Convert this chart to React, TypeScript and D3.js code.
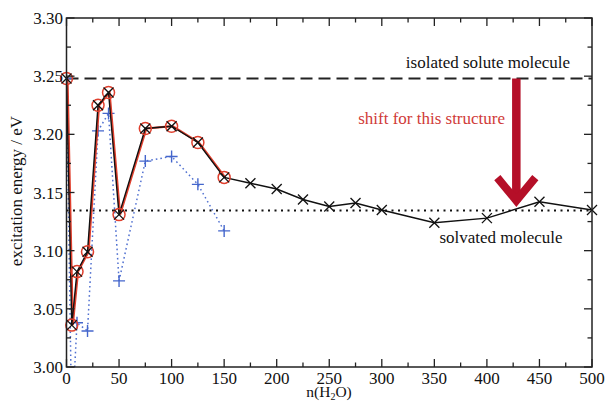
import React from "react";
import * as d3 from "d3";

const W = 605;
const H = 402;

// Black (solid, × markers)
const blackX = [0, 5, 10, 20, 30, 40, 50, 75, 100, 125, 150, 175, 200, 225, 250, 275, 300, 350, 400, 450, 500];
const blackY = [3.248, 3.036, 3.082, 3.099, 3.225, 3.236, 3.131, 3.205, 3.207, 3.193, 3.163, 3.158, 3.153, 3.144, 3.138, 3.141, 3.135, 3.124, 3.128, 3.142, 3.135];

// Red (solid, ○ markers)
const redX = [0, 5, 10, 20, 30, 40, 50, 75, 100, 125, 150];
const redY = [3.248, 3.036, 3.082, 3.099, 3.225, 3.236, 3.131, 3.205, 3.207, 3.193, 3.163];

// Blue (dotted, + markers)
const blueX = [0, 5, 10, 20, 30, 40, 50, 75, 100, 125, 150];
const blueY = [3.248, 2.95, 3.038, 3.031, 3.203, 3.218, 3.074, 3.177, 3.181, 3.157, 3.117];

const isolatedValue = 3.248;
const solvatedValue = 3.1345;
const arrowX = 428;
const arrowTo = 3.137;

const xTicks = [0, 50, 100, 150, 200, 250, 300, 350, 400, 450, 500];
const yTicks = [3.0, 3.05, 3.1, 3.15, 3.2, 3.25, 3.3];

const FONT = "'Liberation Serif', 'DejaVu Serif', serif";

export default function App() {
  const left = 66.5, right = 592, top = 18, bottom = 367;
  const x = d3.scaleLinear().domain([0, 500]).range([left, right]);
  const y = d3.scaleLinear().domain([3.0, 3.3]).range([bottom, top]);

  const line = d3.line<[number, number]>().x(d => x(d[0])).y(d => y(d[1]));
  const black = blackX.map((v, i) => [v, blackY[i]] as [number, number]);
  const red = redX.map((v, i) => [v, redY[i]] as [number, number]);
  const blue = blueX.map((v, i) => [v, blueY[i]] as [number, number]);

  const xMinor = d3.range(25, 500, 50);
  const yMinor = d3.range(3.025, 3.3, 0.05);

  const ax = x(arrowX);
  const tipY = y(arrowTo);
  const arrowColor = "#b50f28";

  return (
    <svg width={W} height={H} style={{ position: "absolute", left: 0, top: 0, background: "#fff" }} fontFamily={FONT}>
      <defs>
        <clipPath id="plot">
          <rect x={left} y={top} width={right - left} height={bottom - top} />
        </clipPath>
      </defs>

      {/* reference lines */}
      <line x1={left} x2={right} y1={y(isolatedValue)} y2={y(isolatedValue)} stroke="#222" strokeWidth={2} strokeDasharray="12,6" />
      <line x1={left} x2={right} y1={y(solvatedValue)} y2={y(solvatedValue)} stroke="#111" strokeWidth={2} strokeDasharray="2,4.5" />

      <g clipPath="url(#plot)">
        {/* blue dotted */}
        <path d={line(blue) || ""} fill="none" stroke="#5070d0" strokeWidth={1.5} strokeDasharray="1.6,3" />
        {blue.map((d, i) => (
          <g key={"b" + i} transform={`translate(${x(d[0])},${y(d[1])})`} stroke="#4466cc" strokeWidth={1.4}>
            <line x1={-6} x2={6} y1={0} y2={0} />
            <line x1={0} x2={0} y1={-6} y2={6} />
          </g>
        ))}
        {/* red */}
        <path d={line(red) || ""} fill="none" stroke="#e0402e" strokeWidth={2.2} transform="translate(1,0)" />
        <path d={line(black) || ""} fill="none" stroke="#111" strokeWidth={1.4} />
      </g>
      {red.map((d, i) => (
        <circle key={"r" + i} cx={x(d[0])} cy={y(d[1])} r={6} fill="none" stroke="#e0402e" strokeWidth={1.5} />
      ))}
      {black.map((d, i) => (
        <g key={"k" + i} transform={`translate(${x(d[0])},${y(d[1])})`} stroke="#111" strokeWidth={1.3}>
          <line x1={-5} x2={5} y1={-5} y2={5} />
          <line x1={-5} x2={5} y1={5} y2={-5} />
        </g>
      ))}

      {/* arrow */}
      <line x1={ax} x2={ax} y1={y(isolatedValue)} y2={tipY - 6} stroke={arrowColor} strokeWidth={8.5} />
      <polyline points={`${ax - 19},${tipY - 30} ${ax},${tipY - 7} ${ax + 19},${tipY - 30}`} fill="none" stroke={arrowColor} strokeWidth={8} strokeLinejoin="miter" strokeMiterlimit={10} />

      {/* frame */}
      <rect x={left} y={top} width={right - left} height={bottom - top} fill="none" stroke="#222" strokeWidth={1.5} />

      {/* x ticks */}
      {xTicks.map(t => (
        <g key={"xt" + t}>
          <line x1={x(t)} x2={x(t)} y1={bottom} y2={bottom - 8} stroke="#222" strokeWidth={1.3} />
          <line x1={x(t)} x2={x(t)} y1={top} y2={top + 8} stroke="#222" strokeWidth={1.3} />
          <text x={x(t)} y={384} textAnchor="middle" fontSize={17} fill="#111">{t}</text>
        </g>
      ))}
      {xMinor.map(t => (
        <g key={"xm" + t}>
          <line x1={x(t)} x2={x(t)} y1={bottom} y2={bottom - 4.5} stroke="#222" strokeWidth={1.3} />
          <line x1={x(t)} x2={x(t)} y1={top} y2={top + 4.5} stroke="#222" strokeWidth={1.3} />
        </g>
      ))}
      {/* y ticks */}
      {yTicks.map(t => (
        <g key={"yt" + t}>
          <line x1={left} x2={left + 8} y1={y(t)} y2={y(t)} stroke="#222" strokeWidth={1.3} />
          <line x1={right} x2={right - 8} y1={y(t)} y2={y(t)} stroke="#222" strokeWidth={1.3} />
          <text x={63} y={y(t) + 6} textAnchor="end" fontSize={17} fill="#111">{t.toFixed(2)}</text>
        </g>
      ))}
      {yMinor.map(t => (
        <g key={"ym" + t}>
          <line x1={left} x2={left + 4.5} y1={y(t)} y2={y(t)} stroke="#222" strokeWidth={1.3} />
          <line x1={right} x2={right - 4.5} y1={y(t)} y2={y(t)} stroke="#222" strokeWidth={1.3} />
        </g>
      ))}

      {/* axis titles */}
      <text x={329} y={397} textAnchor="middle" fontSize={15.5} fill="#111">
        n(H<tspan fontSize={10} dy={2.5}>2</tspan><tspan dy={-2.5}>O)</tspan>
      </text>
      <text transform="translate(22,191) rotate(-90)" textAnchor="middle" fontSize={17} fill="#111">excitation energy / eV</text>

      {/* annotations */}
      <text x={488} y={68} textAnchor="middle" fontSize={17} fill="#111">isolated solute molecule</text>
      <text x={505} y={124} textAnchor="end" fontSize={17} fill="#d03a38">shift for this structure</text>
      <text x={501} y={243} textAnchor="middle" fontSize={17} fill="#111">solvated molecule</text>
    </svg>
  );
}
